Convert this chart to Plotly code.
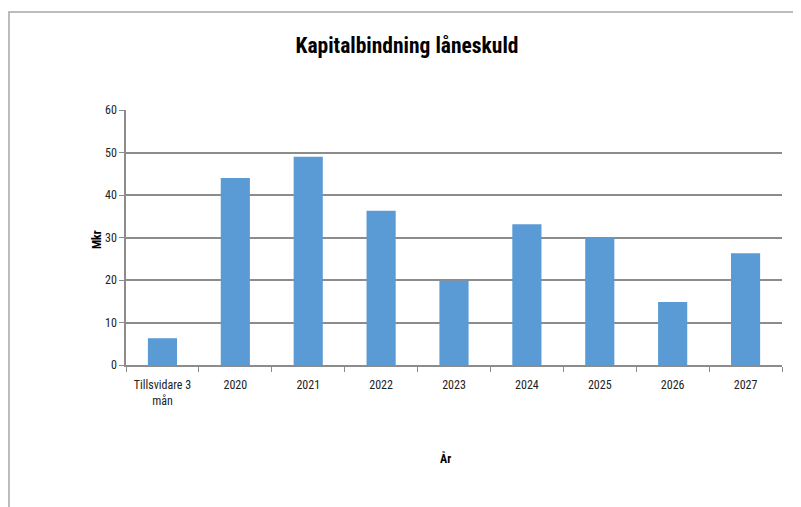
import plotly.graph_objects as go

categories = ["Tillsvidare 3<br>mån", "2020", "2021", "2022", "2023", "2024", "2025", "2026", "2027"]
values = [6.3, 44, 49, 36.3, 19.8, 33.1, 29.9, 14.8, 26.3]
y_ticks = [0, 10, 20, 30, 40, 50, 60]

title_text = "Kapitalbindning låneskuld"
x_title = "År"
y_title = "Mkr"

FONT = "Roboto Condensed, Liberation Sans Narrow, Roboto, sans-serif"

W, H = 801, 507
OFF = 8  # page body margin offset
# target page coordinates of the plot area
PL, PR, PT, PB = 126, 782, 110, 365
L, T = PL - OFF, PT - OFF
R = W - (PR - OFF)
B = H - (PB - OFF)
pw, ph = W - L - R, H - T - B

def px(x):
    return (x - OFF - L) / pw

def py(y):
    return (H - B - (y - OFF)) / ph

fig = go.Figure(go.Bar(
    x=categories, y=values,
    marker=dict(color="#5B9BD5", line=dict(color="#5B9BD5", width=0)),
    width=0.4,
))

fig.update_layout(
    width=W, height=H,
    margin=dict(l=L, r=R, t=T, b=B),
    paper_bgcolor="white", plot_bgcolor="white",
    showlegend=False,
    font=dict(family=FONT, size=12, color="#222"),
    title=dict(text="<b>" + title_text + "</b>", x=(407 - OFF) / W, xanchor="center",
               y=1 - (45 - OFF) / H, yanchor="middle",
               font=dict(family=FONT, size=21.5, color="#000")),
    xaxis=dict(
        type="category", showgrid=False, tickangle=0,
        showline=True, linecolor="#8c8c8c", linewidth=1.5,
        ticks="outside", ticklen=5, tickcolor="#8c8c8c", tickwidth=1,
        tickson="boundaries", ticklabelstandoff=8,
        tickfont=dict(family=FONT, size=12, color="#222"),
    ),
    yaxis=dict(
        range=[0, 60], tickvals=y_ticks,
        showgrid=True, gridcolor="#8c8c8c", gridwidth=1.5,
        showline=True, linecolor="#8c8c8c", linewidth=1.5,
        ticks="outside", ticklen=5, tickcolor="#8c8c8c",
        zeroline=False,
        tickfont=dict(family=FONT, size=12, color="#222"),
    ),
    annotations=[
        dict(text="<b>" + x_title + "</b>", xref="paper", yref="paper",
             x=px(445), y=py(458), xanchor="center", yanchor="middle", showarrow=False,
             font=dict(family=FONT, size=12, color="#000")),
        dict(text="<b>" + y_title + "</b>", xref="paper", yref="paper",
             x=px(97), y=py(240), xanchor="center", yanchor="middle",
             showarrow=False, textangle=-90,
             font=dict(family=FONT, size=12, color="#000")),
    ],
    shapes=[
        dict(type="rect", xref="paper", yref="paper",
             x0=px(9), x1=px(830), y0=py(530), y1=py(12),
             line=dict(color="#a6a6a6", width=1.5), layer="below"),
    ],
)

fig.write_html("out.html")
